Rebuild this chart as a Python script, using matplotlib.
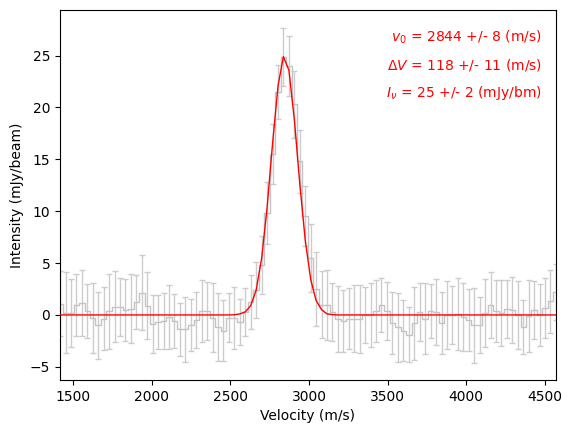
import numpy as np
import matplotlib
matplotlib.use('Agg')
import matplotlib.pyplot as plt

# channel velocities (m/s)
velocity = [1416, 1451, 1485, 1520, 1555, 1589, 1624, 1659, 1693, 1728,
            1763, 1797, 1832, 1867, 1901, 1936, 1971, 2005, 2040, 2075,
            2109, 2144, 2179, 2213, 2248, 2283, 2317, 2352, 2387, 2421,
            2456, 2491, 2525, 2560, 2595, 2629, 2664, 2699, 2733, 2768,
            2803, 2837, 2872, 2907, 2941, 2976, 3011, 3045, 3080, 3115,
            3149, 3184, 3219, 3253, 3288, 3323, 3357, 3392, 3427, 3461,
            3496, 3531, 3565, 3600, 3635, 3669, 3704, 3739, 3773, 3808,
            3843, 3877, 3912, 3947, 3981, 4016, 4051, 4085, 4120, 4155,
            4189, 4224, 4259, 4293, 4328, 4363, 4397, 4432, 4467, 4501,
            4536, 4571]

# measured intensity (mJy/beam)
flux = [1.1, 0.2, 0.2, 0.95, 1.15, 0.4, -0.3, -1.0, -0.35, 0.35,
        0.8, 0.8, 0.45, 0.6, 1.25, 2.15, 0.9, -0.9, -0.65, -0.6,
        -0.2, -0.6, -1.4, -1.4, -1.0, -0.5, 0.4, 0.4, -0.25, -1.15,
        -1.5, -0.25, -0.3, -0.7, 0.3, 1.25, 2.4, 4.8, 9.8, 15.5,
        21.5, 24.9, 24.0, 20.3, 14.8, 9.5, 5.5, 2.5, 1.0, 0.95,
        0.3, -0.4, -0.6, -0.35, -0.35, -0.4, 0.0, 0.0, 0.35, 1.0,
        0.4, -0.8, -1.2, -1.5, -1.9, -0.8, 0.3, -0.35, 0.4, 0.3,
        -0.8, 0.0, 0.0, 0.1, -0.2, -0.5, -1.0, -1.0, 0.2, 0.95,
        0.4, 0.2, 0.6, 0.5, 0.0, -1.15, -0.1, 0.5, 0.0, 0.7,
        1.3, 2.2]

# 1-sigma uncertainty per channel
flux_err = [3.1, 3.9, 3.3, 3.0, 3.2, 2.6, 3.4, 3.2, 3.0, 3.6,
            3.4, 2.8, 3.0, 3.3, 2.6, 3.6, 3.2, 2.8, 2.6, 2.7,
            3.1, 2.6, 2.6, 3.1, 2.5, 2.7, 3.0, 2.8, 3.3, 3.3,
            2.9, 2.4, 3.0, 2.2, 2.3, 2.6, 2.7, 2.8, 3.0, 2.9,
            2.6, 2.8, 2.9, 3.2, 3.0, 2.9, 3.3, 3.6, 3.2, 3.4,
            2.8, 3.2, 3.0, 2.9, 3.2, 3.3, 2.7, 3.1, 3.0, 2.6,
            2.8, 3.0, 3.3, 2.9, 2.65, 3.5, 2.8, 3.4, 2.6, 3.2,
            3.0, 3.3, 2.8, 3.5, 3.3, 3.0, 3.6, 2.7, 3.3, 3.2,
            3.0, 3.2, 2.8, 3.2, 3.3, 2.6, 3.5, 2.8, 3.0, 2.9,
            3.0, 2.7]

# gaussian fit evaluated at the channels
fit_core = [0.02, 0.1, 0.3, 0.9, 2.4, 5.5, 10.3, 16.5, 22.1, 24.9,
            23.6, 18.8, 12.7, 7.2, 3.4, 1.4, 0.5, 0.1, 0.03]
fit = [0.0] * 32 + fit_core + [0.0] * 41

fit_text = [r'$v_0$ = 2844 +/- 8 (m/s)',
            r'$\Delta V$ = 118 +/- 11 (m/s)',
            r'$I_\nu$ = 25 +/- 2 (mJy/bm)']

fig = plt.figure(figsize=(5.72, 4.32), dpi=100)
ax = fig.add_axes([0.1049, 0.1204, 0.8671, 0.8565])

ax.errorbar(velocity, flux, yerr=flux_err, fmt='none', ecolor='#cccccc',
            elinewidth=1, capsize=2.5, zorder=1)
ax.step(velocity, flux, where='mid', color='#c4c4c4', lw=1, zorder=2)
ax.plot(velocity, fit, color='red', lw=1, zorder=3)

for i, t in enumerate(fit_text):
    ax.text(0.972, 0.927 - i * 0.0755, t, color='red', fontsize=10,
            ha='right', va='center', transform=ax.transAxes)

ax.set_xlim(velocity[0], velocity[-1])
ax.set_ylim(-6.27, 29.4)
ax.set_xticks([1500, 2000, 2500, 3000, 3500, 4000, 4500])
ax.set_yticks([-5, 0, 5, 10, 15, 20, 25])
ax.set_xlabel('Velocity (m/s)')
ax.set_ylabel('Intensity (mJy/beam)')

fig.savefig('out.png', dpi=100)
